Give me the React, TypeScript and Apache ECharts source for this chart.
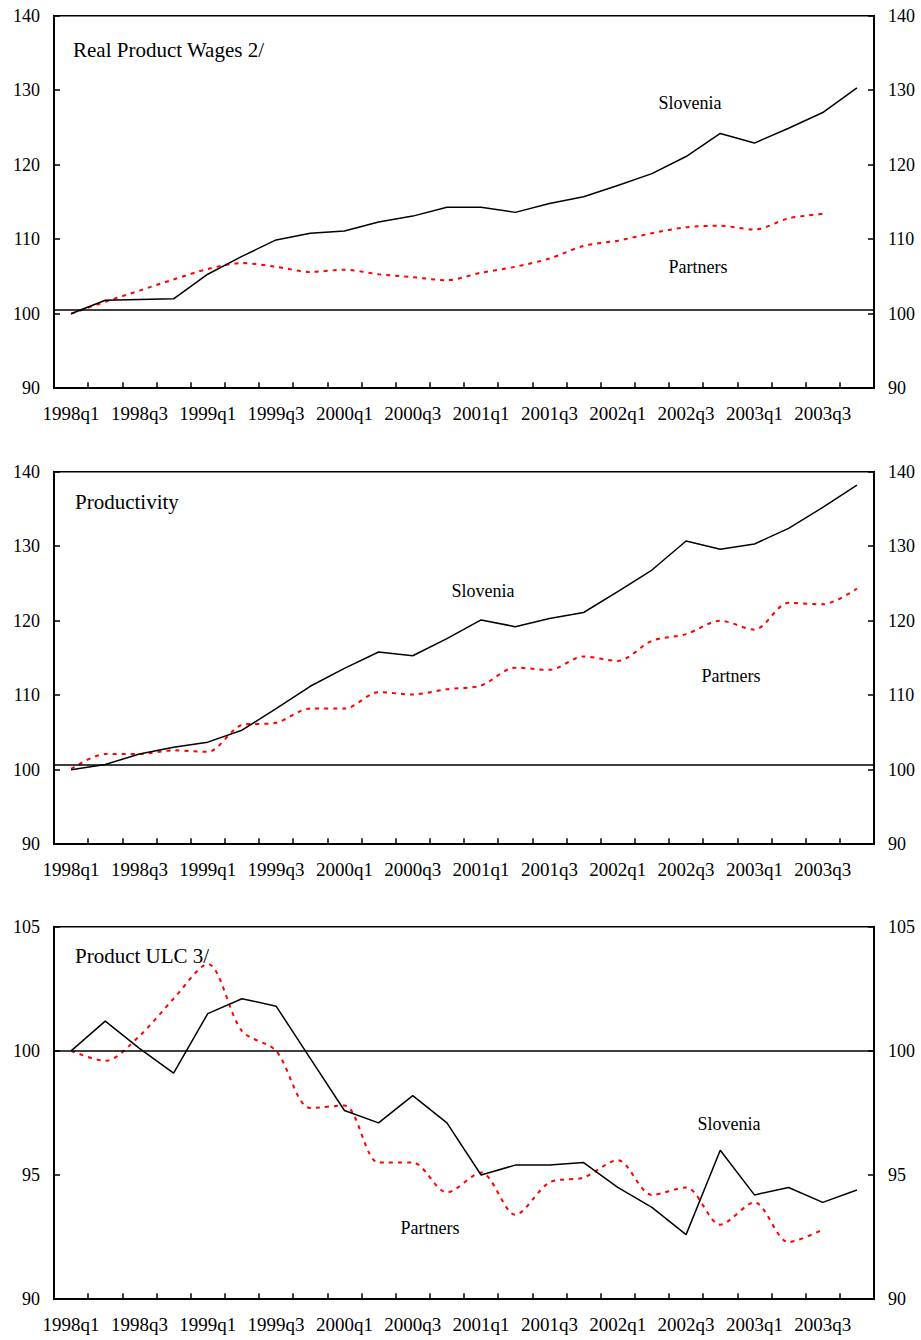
import React, { useEffect, useRef } from "react";
import * as echarts from "echarts";

// Quarterly index values, 1998q1 = 100
const quarters = [
  "1998q1", "1998q2", "1998q3", "1998q4",
  "1999q1", "1999q2", "1999q3", "1999q4",
  "2000q1", "2000q2", "2000q3", "2000q4",
  "2001q1", "2001q2", "2001q3", "2001q4",
  "2002q1", "2002q2", "2002q3", "2002q4",
  "2003q1", "2003q2", "2003q3", "2003q4",
];

const wagesSlovenia = [
  100.0, 101.8, 101.9, 102.0, 105.3, 107.7, 109.9, 110.8, 111.1, 112.3, 113.1, 114.3,
  114.3, 113.6, 114.8, 115.7, 117.2, 118.8, 121.1, 124.2, 122.9, 124.9, 127.0, 130.3,
];
const wagesPartners = [
  100.0, 101.6, 103.1, 104.6, 106.0, 106.8, 106.3, 105.6, 105.9, 105.3, 104.9, 104.5,
  105.5, 106.3, 107.4, 109.1, 109.8, 110.8, 111.6, 111.8, 111.3, 112.8, 113.4,
];

const productivitySlovenia = [
  100.0, 100.7, 102.1, 103.0, 103.7, 105.3, 108.2, 111.2, 113.6, 115.8, 115.3, 117.6,
  120.1, 119.2, 120.3, 121.1, 123.9, 126.8, 130.7, 129.6, 130.3, 132.4, 135.2, 138.2,
];
const productivityPartners = [
  100.1, 102.1, 102.1, 102.6, 102.4, 106.0, 106.3, 108.2, 108.2, 110.4, 110.1, 110.8,
  111.3, 113.7, 113.4, 115.2, 114.6, 117.3, 118.2, 120.0, 118.8, 122.4, 122.2, 124.3,
];

const ulcSlovenia = [
  100.0, 101.2, 100.1, 99.1, 101.5, 102.1, 101.8, 99.7, 97.6, 97.1, 98.2, 97.1,
  95.0, 95.4, 95.4, 95.5, 94.5, 93.7, 92.6, 96.0, 94.2, 94.5, 93.9, 94.4,
];
const ulcPartners = [
  100.0, 99.6, 100.6, 102.1, 103.5, 100.8, 100.0, 97.7, 97.8, 95.5, 95.5, 94.3,
  95.1, 93.4, 94.7, 94.9, 95.6, 94.2, 94.5, 93.0, 93.9, 92.3, 92.8,
];

const panelTitles = ["Real Product Wages 2/", "Productivity", "Product ULC 3/"];
const axisMin = [90, 90, 90];
const axisMax = [140, 140, 105];
const axisStep = [10, 10, 5];
const baselines = [100.5, 100.6, 100];

const FONT = "Liberation Serif, Times New Roman, serif";

const layout = [
  { top: 15.7, titleX: 73, titleY: 50, slo: [690, 103], par: [698, 267] },
  { top: 471.7, titleX: 75, titleY: 502, slo: [483, 591], par: [731, 676] },
  { top: 926.7, titleX: 75, titleY: 956, slo: [729, 1124], par: [430, 1228] },
];
const PANEL_H = 372.5;

function label(text: string, x: number, y: number, size: number, align: string) {
  return {
    type: "text",
    x,
    y,
    style: {
      text,
      fill: "#000",
      fontFamily: FONT,
      fontSize: size,
      align,
      verticalAlign: "middle",
    },
  };
}

function buildOption() {
  const series = [
    [wagesSlovenia, wagesPartners],
    [productivitySlovenia, productivityPartners],
    [ulcSlovenia, ulcPartners],
  ];

  const grid: any[] = [];
  const xAxis: any[] = [];
  const yAxis: any[] = [];
  const seriesList: any[] = [];
  const graphic: any[] = [];

  const axisLine = { show: true, lineStyle: { color: "#000", width: 2 } };
  const axisTick = { show: true, inside: true, length: 6, lineStyle: { color: "#000", width: 1.5 } };

  layout.forEach((p, k) => {
    grid.push({
      left: 54,
      right: 47,
      top: p.top,
      height: PANEL_H,
      show: true,
      borderColor: "#000",
      borderWidth: 1.5,
      backgroundColor: "transparent",
    });
    xAxis.push({
      type: "category",
      gridIndex: k,
      data: quarters,
      boundaryGap: true,
      axisLine,
      axisTick: { ...axisTick, interval: 0 },
      axisLabel: {
        interval: 1,
        color: "#000",
        fontFamily: FONT,
        fontSize: 19,
        margin: 16,
      },
      splitLine: { show: false },
    });
    ["left", "right"].forEach((pos) => {
      yAxis.push({
        type: "value",
        gridIndex: k,
        position: pos,
        min: axisMin[k],
        max: axisMax[k],
        interval: axisStep[k],
        axisLine,
        axisTick,
        axisLabel: {
          color: "#000",
          fontFamily: FONT,
          fontSize: 18,
          margin: 14,
        },
        splitLine: { show: false },
      });
    });
    seriesList.push({
      name: "Slovenia",
      type: "line",
      xAxisIndex: k,
      yAxisIndex: 2 * k,
      data: series[k][0],
      symbol: "none",
      lineStyle: { color: "#000", width: 1.5 },
      z: 3,
      markLine: {
        silent: true,
        symbol: ["none", "none"],
        label: { show: false },
        lineStyle: { color: "#000", width: 1.5, type: "solid" },
        data: [{ yAxis: baselines[k] }],
      },
    });
    seriesList.push({
      name: "Partners",
      type: "line",
      xAxisIndex: k,
      yAxisIndex: 2 * k,
      data: series[k][1],
      symbol: "none",
      smooth: 0.3,
      lineStyle: { color: "#ff0000", width: 2, type: [4, 5] },
      z: 2,
    });

    graphic.push(label(panelTitles[k], p.titleX, p.titleY, 21, "left"));
    graphic.push(label("Slovenia", p.slo[0], p.slo[1], 18, "center"));
    graphic.push(label("Partners", p.par[0], p.par[1], 18, "center"));
  });

  return {
    animation: false,
    backgroundColor: "#fff",
    textStyle: { fontFamily: FONT },
    grid,
    xAxis,
    yAxis,
    series: seriesList,
    graphic,
  };
}

export default function App() {
  const ref = useRef<HTMLDivElement>(null);

  useEffect(() => {
    if (!ref.current) return;
    const chart = echarts.init(ref.current, null, { renderer: "svg" });
    chart.setOption(buildOption());
    return () => chart.dispose();
  }, []);

  return (
    <div
      ref={ref}
      style={{ position: "absolute", left: 0, top: 0, width: 921, height: 1340, background: "#fff" }}
    />
  );
}
